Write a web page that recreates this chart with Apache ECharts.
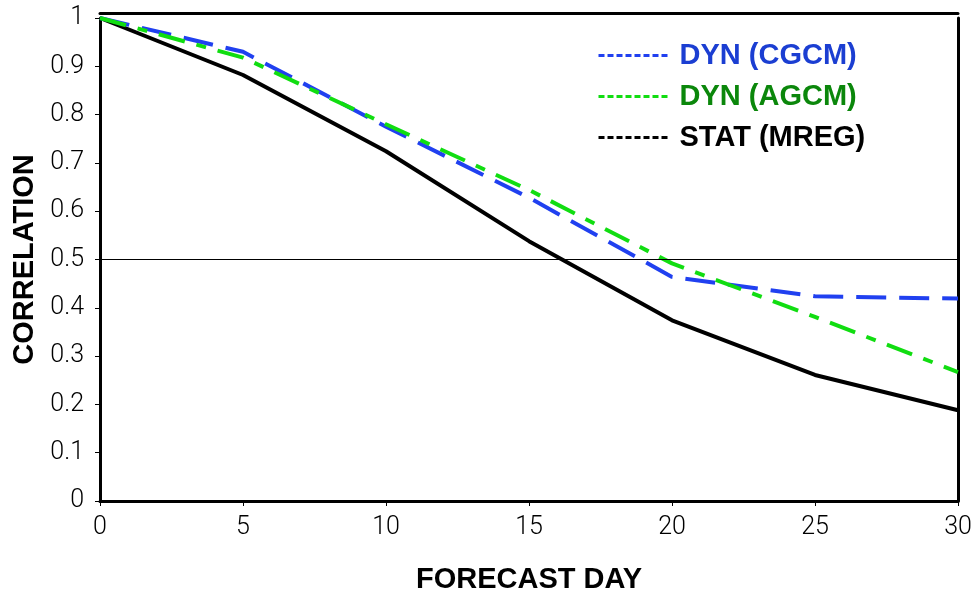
<!DOCTYPE html>
<html>
<head>
<meta charset="utf-8">
<script src="https://cdn.jsdelivr.net/npm/echarts@6/dist/echarts.min.js"></script>
<style>html,body{margin:0;padding:0;background:#fff;}#c{width:973px;height:595px;}</style>
</head>
<body>
<div id="c"></div>
<script>
const forecastDays = [0, 5, 10, 15, 20, 25, 30];
const dynCGCM = [1.0, 0.93, 0.775, 0.628, 0.464, 0.424, 0.419];
const dynAGCM = [1.0, 0.918, 0.78, 0.644, 0.492, 0.381, 0.267];
const statMREG = [1.0, 0.882, 0.724, 0.538, 0.374, 0.261, 0.188];
const seriesNames = ['DYN (CGCM)', 'DYN (AGCM)', 'STAT (MREG)'];
const referenceLevel = 0.5;

const pair = arr => forecastDays.map((d, i) => [d, arr[i]]);
const labelFont = { fontFamily: 'Roboto', fontWeight: 300, fontSize: 25, color: '#000' };
const titleFont = { fontFamily: 'Liberation Sans', fontWeight: 'bold', fontSize: 29, color: '#000' };

const chart = echarts.init(document.getElementById('c'));
chart.setOption({
  animation: false,
  backgroundColor: '#fff',
  grid: { left: 100, right: 15, top: 18, bottom: 94, containLabel: false, outerBoundsMode: 'none' },
  legend: {
    orient: 'vertical',
    left: 592,
    top: 36,
    itemWidth: 70,
    itemHeight: 14,
    itemGap: 12,
    itemStyle: { opacity: 0 },
    data: [
      { name: seriesNames[0], lineStyle: { type: [6, 3], width: 3, opacity: 1 }, textStyle: { color: '#1b3ed2' } },
      { name: seriesNames[1], lineStyle: { type: [6, 3], width: 3, opacity: 1 }, textStyle: { color: '#0b870b' } },
      { name: seriesNames[2], lineStyle: { type: [6, 3], width: 3, opacity: 1 }, textStyle: { color: '#000' } }
    ],
    textStyle: { fontFamily: 'Liberation Sans', fontWeight: 'bold', fontSize: 29, padding: [0, 0, 0, 6] }
  },
  xAxis: [{
    type: 'value', min: 0, max: 30, interval: 5,
    name: 'FORECAST DAY', nameLocation: 'middle', nameGap: 64, nameTextStyle: titleFont,
    axisLine: { show: true, onZero: false, lineStyle: { color: '#000', width: 3 } },
    axisTick: { show: true, length: 5, lineStyle: { color: '#000', width: 1 } },
    axisLabel: Object.assign({ margin: 14 }, labelFont),
    splitLine: { show: false }
  }, {
    type: 'value', min: 0, max: 30, position: 'top', offset: 5,
    axisLine: { show: true, onZero: false, lineStyle: { color: '#000', width: 3 } },
    axisTick: { show: false }, axisLabel: { show: false }, splitLine: { show: false }
  }],
  yAxis: [{
    type: 'value', min: 0, max: 1, interval: 0.1,
    name: 'CORRELATION', nameLocation: 'middle', nameRotate: 90, nameGap: 58, nameTextStyle: titleFont,
    axisLine: { show: true, onZero: false, lineStyle: { color: '#000', width: 3 } },
    axisTick: { show: true, length: 5, lineStyle: { color: '#000', width: 1 } },
    axisLabel: Object.assign({ margin: 16, formatter: v => String(+v.toFixed(1)) }, labelFont),
    splitLine: { show: false }
  }, {
    type: 'value', min: 0, max: 1, position: 'right',
    axisLine: { show: true, onZero: false, lineStyle: { color: '#000', width: 3 } },
    axisTick: { show: false }, axisLabel: { show: false }, splitLine: { show: false }
  }],
  series: [
    {
      name: seriesNames[0], type: 'line', data: pair(dynCGCM), symbol: 'none',
      color: '#2040f0',
      lineStyle: { color: '#2040f0', width: 4, type: [30, 13] },
      z: 3
    },
    {
      name: seriesNames[1], type: 'line', data: pair(dynAGCM), symbol: 'none',
      color: '#11dd11',
      lineStyle: { color: '#11dd11', width: 4, type: [27, 12, 10, 12] },
      z: 4
    },
    {
      name: seriesNames[2], type: 'line', data: pair(statMREG), symbol: 'none',
      color: '#000',
      lineStyle: { color: '#000', width: 4, type: 'solid' },
      z: 2,
      markLine: {
        silent: true, symbol: 'none', label: { show: false },
        lineStyle: { color: '#000', width: 1, type: 'solid' },
        data: [{ yAxis: referenceLevel }]
      }
    }
  ]
});
</script>
</body>
</html>
